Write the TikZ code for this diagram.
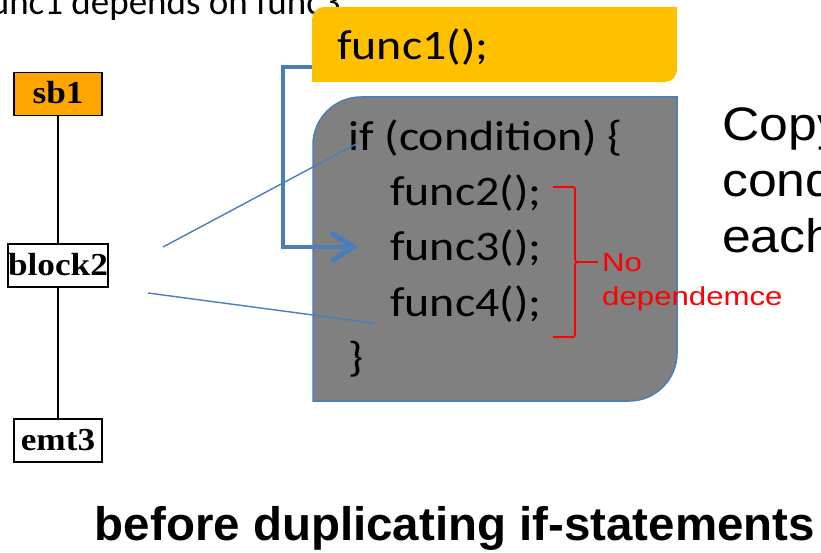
\documentclass[tikz,border=0pt]{standalone}
\usepackage{fontspec}
\usetikzlibrary{arrows.meta}
\newfontfamily\calib[FakeStretch=1.14]{Carlito}
\newfontfamily\calibN{Carlito}
\newfontfamily\arialS[FakeStretch=1.1]{Liberation Sans}
\newfontfamily\arialR[FakeStretch=1.2]{Liberation Sans}
\newfontfamily\arialT[FakeStretch=1.01]{Liberation Sans}
\newfontfamily\timesB[FakeStretch=1.1]{Liberation Serif}
\definecolor{accblue}{HTML}{4A7EBB}
\definecolor{yel}{HTML}{FFC000}
\definecolor{grayfill}{HTML}{808080}
\definecolor{orng}{HTML}{FFA500}
\tikzset{
  treebox/.style={draw=black, line width=1.3pt, minimum width=88pt, minimum height=43pt, inner sep=0pt, font=\timesB\bfseries\fontsize{32}{32}\selectfont},
  codetext/.style={anchor=base west, inner sep=0pt, font=\calib\fontsize{42}{44}\selectfont},
  sidetext/.style={anchor=base west, inner sep=0pt, font=\arialS\fontsize{47}{50}\selectfont},
  redtext/.style={anchor=base west, inner sep=0pt, text=red, font=\arialR\fontsize{26}{28}\selectfont},
  thinlink/.style={draw=accblue, line width=1.4pt},
  brace/.style={draw=red, line width=1.8pt}
}
\begin{document}
\begin{tikzpicture}[x=1pt,y=-1pt]
\useasboundingbox (0,0) rectangle (821,553);
% top (cut) caption
\node[anchor=base east, inner sep=0pt, font=\calibN\fontsize{37}{40}\selectfont] (cap) at (341,15) {func1 depends on func3};
% tree
\node[treebox, fill=orng] (sb1) at (58,94) {\raisebox{3pt}{sb1}};
\node[treebox, fill=white] (block2) at (58,265.5) {\raisebox{3pt}{block2}};
\node[treebox, fill=white] (emt3) at (58,440.5) {emt3};
\draw[line width=1.3pt] (sb1) -- (block2) -- (emt3);
% yellow box
\fill[yel] (312,82) -- (312,19) .. controls (312,12.4) and (317.4,7) .. (324,7) -- (677,7) -- (677,70) .. controls (677,76.6) and (671.6,82) .. (665,82) -- cycle;
\node[codetext] (f1) at (337,60) {func1();};
% gray box
\filldraw[fill=grayfill, draw=accblue, line width=1.5pt] (313,401) -- (313,145) .. controls (313,118.5) and (334.5,97) .. (361,97) -- (677,97) -- (677,353) .. controls (677,379.5) and (655.5,401) .. (629,401) -- cycle;
\node[codetext] (ifl) at (348,151) {if (condition) \{};
\node[codetext] (f2) at (390,206) {func2();};
\node[codetext] (f3) at (390,261) {func3();};
\node[codetext] (f4) at (390,316) {func4();};
\node[codetext] (cl) at (348,371) {\}};
% brace
\draw[brace] (553,187) -- (570,187) .. controls (575,187) .. (575,192) -- (575,256) .. controls (575,262) .. (581,262) -- (598,262);
\draw[brace] (581,262) .. controls (575,262) .. (575,268) -- (575,332) .. controls (575,337) .. (570,337) -- (553,337);
\node[redtext] (no) at (602,271) {No};
\node[redtext] (dep) at (602,305) {dependemce};
% side text (cut at right edge)
\node[sidetext] (s1) at (722,141) {Copy};
\node[sidetext] (s2) at (722,197) {condition};
\node[sidetext] (s3) at (722,252) {each};
% thin links
\coordinate (l1a) at (163,247);
\coordinate (l1b) at (358,143);
\coordinate (l2a) at (148,293);
\coordinate (l2b) at (373,323);
\draw[thinlink] (l1a) -- (l1b);
\draw[thinlink] (l2a) -- (l2b);
% dependency arrow
\coordinate (dstart) at (312,67);
\coordinate (dend) at (358,247);
\draw[draw=accblue, line width=4.5pt, line join=miter, -{Straight Barb[length=22pt,width=28pt,line width=5pt]}] (dstart) -- (283,67) -- (283,247) -- (dend);
% title
\node[anchor=base, inner sep=0pt, font=\arialT\bfseries\fontsize{47}{50}\selectfont] (title) at (455,540) {before duplicating if-statements};
\end{tikzpicture}
\end{document}
